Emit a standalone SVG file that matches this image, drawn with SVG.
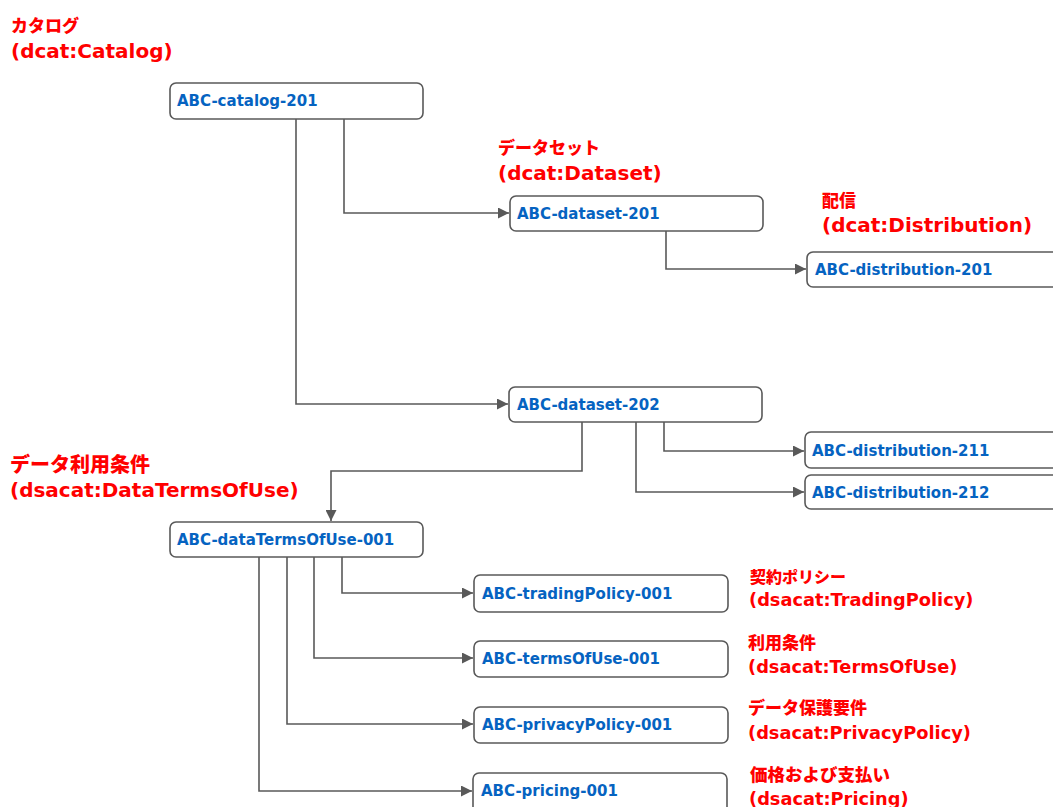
<svg xmlns="http://www.w3.org/2000/svg" width="1053" height="807" viewBox="0 0 1053 807">
<style>
.box{fill:#fff;stroke:#595959;stroke-width:1.6}
.bt{font-family:"DejaVu Sans","Noto Sans CJK JP",sans-serif;font-weight:bold;font-size:15px;fill:#0563C1}
.lbl{font-family:"DejaVu Sans","Noto Sans CJK JP",sans-serif;font-weight:bold;fill:#FF0000}
.jp{font-family:"Noto Sans CJK JP",sans-serif;font-weight:900;fill:#FF0000}
.c{fill:none;stroke:#595959;stroke-width:1.6}
</style>
<defs>
<marker id="ah" markerUnits="userSpaceOnUse" markerWidth="11" markerHeight="11" refX="11" refY="5.5" orient="auto">
<path d="M0,0 L11,5.5 L0,11 z" fill="#595959"/>
</marker>
</defs>
<rect width="1053" height="807" fill="#fff"/>
<g id="labels">
<text class="jp" x="11" y="32" font-size="17">カタログ</text>
<text class="lbl" x="11" y="58" font-size="20">(dcat:Catalog)</text>
<text class="jp" x="498" y="154" font-size="17">データセット</text>
<text class="lbl" x="498" y="180" font-size="20">(dcat:Dataset)</text>
<text class="jp" x="822" y="207" font-size="17">配信</text>
<text class="lbl" x="822" y="232" font-size="20">(dcat:Distribution)</text>
<text class="jp" x="10" y="472" font-size="20">データ利用条件</text>
<text class="lbl" x="10" y="497" font-size="20">(dsacat:DataTermsOfUse)</text>
<text class="jp" x="750" y="583" font-size="16">契約ポリシー</text>
<text class="lbl" x="749" y="606" font-size="17.8">(dsacat:TradingPolicy)</text>
<text class="jp" x="748" y="649" font-size="17">利用条件</text>
<text class="lbl" x="748" y="673" font-size="17.8">(dsacat:TermsOfUse)</text>
<text class="jp" x="748" y="714" font-size="17">データ保護要件</text>
<text class="lbl" x="748" y="739" font-size="17.8">(dsacat:PrivacyPolicy)</text>
<text class="jp" x="750" y="781" font-size="17.5">価格および支払い</text>
<text class="lbl" x="749" y="805" font-size="17.8">(dsacat:Pricing)</text>
</g>
<g id="connectors">
<path class="c" d="M344,119 V213 H509" marker-end="url(#ah)"/>
<path class="c" d="M296,119 V404 H508" marker-end="url(#ah)"/>
<path class="c" d="M666,231 V269 H806" marker-end="url(#ah)"/>
<path class="c" d="M664,422 V451 H804" marker-end="url(#ah)"/>
<path class="c" d="M636,422 V492 H804" marker-end="url(#ah)"/>
<path class="c" d="M582,422 V471 H331 V521" marker-end="url(#ah)"/>
<path class="c" d="M342,557 V593 H473" marker-end="url(#ah)"/>
<path class="c" d="M314,557 V658 H473" marker-end="url(#ah)"/>
<path class="c" d="M287,557 V724 H473" marker-end="url(#ah)"/>
<path class="c" d="M259,557 V791 H472" marker-end="url(#ah)"/>
</g>
<g id="catalog-201"><rect class="box" x="170" y="83" width="253" height="36" rx="6"/><text class="bt" x="177" y="106">ABC-catalog-201</text></g>
<g id="dataset-201"><rect class="box" x="510" y="196" width="253" height="35" rx="6"/><text class="bt" x="517" y="219">ABC-dataset-201</text></g>
<g id="distribution-201"><rect class="box" x="807" y="252" width="260" height="35" rx="6"/><text class="bt" x="815" y="275">ABC-distribution-201</text></g>
<g id="dataset-202"><rect class="box" x="509" y="387" width="253" height="35" rx="6"/><text class="bt" x="517" y="410">ABC-dataset-202</text></g>
<g id="distribution-211"><rect class="box" x="805" y="432" width="260" height="36" rx="6"/><text class="bt" x="812" y="456">ABC-distribution-211</text></g>
<g id="distribution-212"><rect class="box" x="805" y="475" width="260" height="34" rx="6"/><text class="bt" x="812" y="498">ABC-distribution-212</text></g>
<g id="dataTermsOfUse-001"><rect class="box" x="170" y="522" width="253" height="35" rx="6"/><text class="bt" x="177" y="545">ABC-dataTermsOfUse-001</text></g>
<g id="tradingPolicy-001"><rect class="box" x="474" y="575" width="254" height="37" rx="6"/><text class="bt" x="482" y="599">ABC-tradingPolicy-001</text></g>
<g id="termsOfUse-001"><rect class="box" x="474" y="641" width="254" height="36" rx="6"/><text class="bt" x="482" y="664">ABC-termsOfUse-001</text></g>
<g id="privacyPolicy-001"><rect class="box" x="474" y="707" width="254" height="36" rx="6"/><text class="bt" x="482" y="730">ABC-privacyPolicy-001</text></g>
<g id="pricing-001"><rect class="box" x="473" y="773" width="254" height="40" rx="6"/><text class="bt" x="481" y="796">ABC-pricing-001</text></g>
</svg>
